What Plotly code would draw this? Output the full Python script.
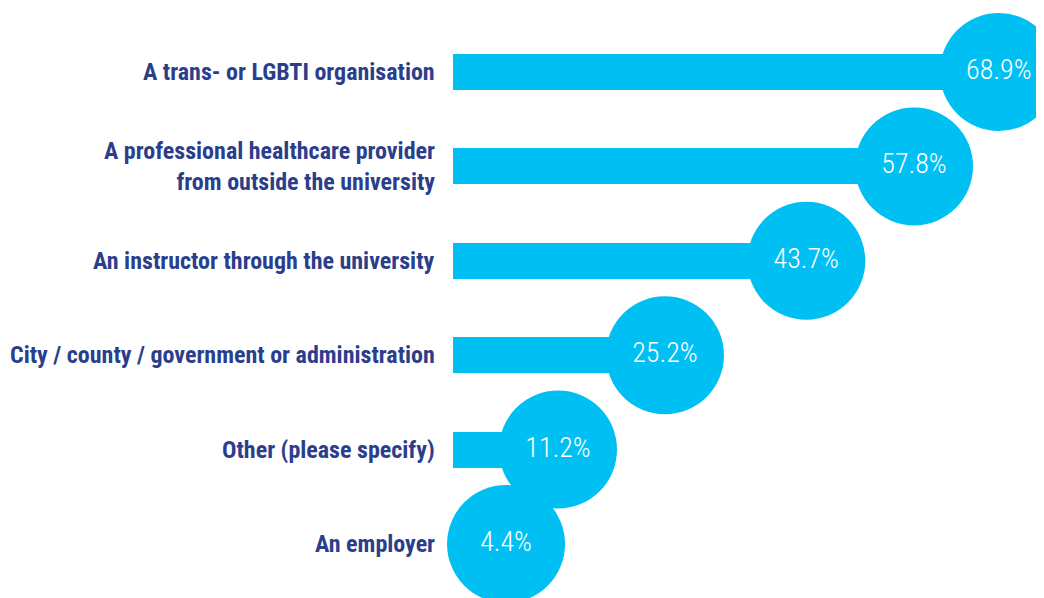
import plotly.graph_objects as go

categories = [
    "A trans- or LGBTI organisation",
    "A professional healthcare provider<br>from outside the university",
    "An instructor through the university",
    "City / county / government or administration",
    "Other (please specify)",
    "An employer",
]
values = [68.9, 57.8, 43.7, 25.2, 11.2, 4.4]
value_labels = ["68.9%", "57.8%", "43.7%", "25.2%", "11.2%", "4.4%"]

BAR_COLOR = "#00c0f3"
LABEL_COLOR = "#2b3e8c"
BAR_START = -2.54
LABEL_X = -4.64

idx = list(range(len(categories)))

fig = go.Figure()
fig.add_trace(go.Bar(
    y=idx, x=[v - BAR_START for v in values], base=BAR_START,
    orientation="h", width=0.38, marker=dict(color=BAR_COLOR, line=dict(width=0)),
    hoverinfo="skip", showlegend=False,
))
fig.add_trace(go.Scatter(
    y=idx, x=values, mode="markers+text",
    marker=dict(size=118, color=BAR_COLOR, line=dict(width=0), opacity=1),
    text=value_labels, textposition="middle center",
    textfont=dict(family="Roboto Condensed, Roboto", size=28, color="white", weight=300),
    hoverinfo="skip", showlegend=False,
))
for i, c in enumerate(categories):
    fig.add_annotation(
        x=LABEL_X, y=i, text="<b>" + c + "</b>", showarrow=False,
        xanchor="right", yanchor="middle", align="right",
        font=dict(family="Roboto Condensed, Liberation Sans Narrow, Roboto", size=24, color=LABEL_COLOR),
    )

fig.update_layout(
    width=1044, height=598,
    margin=dict(l=0, r=0, t=0, b=0),
    paper_bgcolor="white", plot_bgcolor="white",
    xaxis=dict(range=[-60.79, 75.86], visible=False, fixedrange=True),
    yaxis=dict(range=[5.657, -0.678], visible=False, fixedrange=True),
    bargap=0,
)
fig.write_html("out.html")
